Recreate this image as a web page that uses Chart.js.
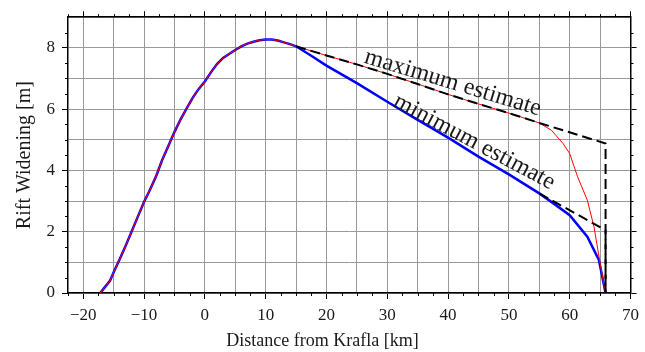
<!DOCTYPE html>
<html>
<head>
<meta charset="utf-8">
<script src="https://cdn.jsdelivr.net/npm/chart.js@4.4.1/dist/chart.umd.min.js"></script>
<style>
    html, body { margin: 0; padding: 0; background: #fff; }
    #wrap { width: 645px; height: 352px; }
</style>
</head>
<body>
<div id="wrap"><canvas id="myChart" width="645" height="352"></canvas></div>
<script>

// shared rise of the widening profile (both estimates agree here)
const riseKm = [-17.2, -16.4, -15.6, -14.9, -14, -13, -12, -11, -10, -9, -8, -7, -6, -5, -4, -3, -2, -1, 0, 1, 2, 3, 4, 5, 6, 7, 8, 9, 10, 11, 12, 13, 14, 15];
const riseM = [0, 0.2, 0.4, 0.72, 1.1, 1.55, 2.02, 2.5, 2.97, 3.38, 3.82, 4.35, 4.8, 5.25, 5.66, 6.02, 6.37, 6.66, 6.9, 7.2, 7.47, 7.67, 7.8, 7.93, 8.05, 8.14, 8.2, 8.25, 8.27, 8.27, 8.24, 8.18, 8.12, 8.05];

// maximum estimate (red)
const maxKm = [17.5, 20, 25, 30, 35, 40, 45, 50, 55, 57, 58.9, 60, 61.3, 62.9, 64, 65, 65.9];
const maxM = [7.90, 7.75, 7.46, 7.15, 6.82, 6.48, 6.17, 5.87, 5.55, 5.31, 4.88, 4.55, 3.79, 3.03, 2.16, 0.97, 0];

// minimum estimate (blue)
const minKm = [17.5, 20, 25, 30, 35, 40, 45, 50, 55, 57.5, 60, 62.9, 64.8, 65.9];
const minM = [7.74, 7.42, 6.85, 6.24, 5.65, 5.07, 4.45, 3.87, 3.25, 2.90, 2.54, 1.84, 1.08, 0];

// dashed envelopes
const envMaxKm = [15, 20, 25, 30, 35, 40, 45, 50, 55, 65.9, 65.9];
const envMaxM = [8.05, 7.75, 7.46, 7.15, 6.82, 6.48, 6.17, 5.87, 5.55, 4.88, 0];
const envMinKm = [55, 65.9, 65.9];
const envMinM = [3.25, 2.05, 0];

const xTicks = [-20, -15, -10, -5, 0, 5, 10, 15, 20, 25, 30, 35, 40, 45, 50, 55, 60, 65, 70];

const serif = 'Liberation Serif';

function pts(xs, ys) {
    return xs.map((x, i) => ({ x: x, y: ys[i] }));
}

function fmt(v) {
    return v < 0 ? '\u2212' + Math.abs(v) : '' + v;
}

function setXTicks(scale) {
    scale.ticks = xTicks.map(v => ({ value: v }));
}

// long marks only at labelled values
function majorTick(ctx, step) {
    const v = ctx.tick ? ctx.tick.value : 0;
    return Math.abs(v % step) < 1e-6 ? '#000' : 'rgba(0,0,0,0)';
}

const minorTicks = {
    id: 'minorTicks',
    afterDraw(chart) {
        const ctx = chart.ctx;
        const a = chart.chartArea;
        const sx = chart.scales.x, sy = chart.scales.y;
        ctx.save();
        ctx.strokeStyle = '#000';
        ctx.lineWidth = 1;
        ctx.beginPath();
        for (let v = -22.5; v <= 70; v += 2.5) {
            if (Math.abs(v % 10) < 1e-6) continue;
            const p = Math.round(sx.getPixelForValue(v)) + 0.5;
            ctx.moveTo(p, a.bottom); ctx.lineTo(p, a.bottom + 3);
            ctx.moveTo(p, a.top); ctx.lineTo(p, a.top - 3);
        }
        for (let v = 0.5; v < 9; v += 0.5) {
            if (Math.abs(v % 2) < 1e-6) continue;
            const p = Math.round(sy.getPixelForValue(v)) + 0.5;
            ctx.moveTo(a.left, p); ctx.lineTo(a.left - 3, p);
            ctx.moveTo(a.right, p); ctx.lineTo(a.right + 3, p);
        }
        ctx.stroke();
        ctx.restore();
    }
};

const curveLabels = {
    id: 'curveLabels',
    afterDatasetsDraw(chart) {
        const ctx = chart.ctx;
        const sx = chart.scales.x, sy = chart.scales.y;
        const put = (text, km, m, deg, lift) => {
            ctx.save();
            ctx.translate(sx.getPixelForValue(km), sy.getPixelForValue(m));
            ctx.rotate(deg * Math.PI / 180);
            ctx.font = '24px "' + serif + '"';
            ctx.fillStyle = '#1a1a1a';
            ctx.textAlign = 'center';
            ctx.textBaseline = 'alphabetic';
            ctx.fillText(text, 0, -lift);
            ctx.restore();
        };
        put('maximum estimate', 40.2, 6.47, 16.8, 6);
        put('minimum estimate', 43.5, 4.63, 28, 4);
    }
};

const config = {
    type: 'scatter',
    data: {
        datasets: [
            { data: pts(envMaxKm, envMaxM), borderColor: '#000', borderWidth: 2, borderDash: [10, 5] },
            { data: pts(envMinKm, envMinM), borderColor: '#000', borderWidth: 2, borderDash: [10, 5] },
            { data: pts(riseKm.concat(maxKm), riseM.concat(maxM)), borderColor: '#ff0000', borderWidth: 1 },
            { data: pts(riseKm.concat(minKm), riseM.concat(minM)), borderColor: '#0000ff', borderWidth: 2.5 }
        ].map(d => Object.assign(d, { showLine: true, pointRadius: 0, fill: false, tension: 0 }))
    },
    options: {
        responsive: false,
        animation: false,
        layout: { padding: 0 },
        plugins: {
            legend: { display: false },
            tooltip: { enabled: false },
            title: {
                display: true,
                position: 'bottom',
                text: 'Distance from Krafla [km]',
                color: '#1a1a1a',
                font: { family: serif, size: 18, weight: 'normal' },
                padding: { top: 0, bottom: 0 }
            }
        },
        scales: {
            x: {
                type: 'linear',
                position: 'bottom',
                min: -22.5,
                max: 70,
                afterBuildTicks: setXTicks,
                afterFit: s => { s.height = 37.4; },
                grid: { color: '#999', lineWidth: 1, tickLength: 6, tickColor: c => majorTick(c, 10) },
                border: { color: '#000', width: 1.5 },
                ticks: {
                    color: '#1a1a1a',
                    padding: 6,
                    maxRotation: 0,
                    autoSkip: false,
                    font: { family: serif, size: 17 },
                    callback: v => (v % 10 === 0 ? fmt(v) : '')
                }
            },
            x2: {
                type: 'linear',
                axis: 'x',
                position: 'top',
                min: -22.5,
                max: 70,
                afterBuildTicks: setXTicks,
                afterFit: s => { s.height = 16; },
                grid: { drawOnChartArea: false, tickLength: 6, tickColor: c => majorTick(c, 10) },
                border: { color: '#000', width: 1.5 },
                ticks: { display: false }
            },
            y: {
                type: 'linear',
                position: 'left',
                min: 0,
                max: 9,
                afterFit: s => { s.width = 68; },
                grid: { color: '#999', lineWidth: 1, tickLength: 6, tickColor: c => majorTick(c, 2) },
                border: { color: '#000', width: 1.5 },
                title: {
                    display: true,
                    text: 'Rift Widening [m]',
                    color: '#1a1a1a',
                    font: { family: serif, size: 20 },
                    padding: { top: 13, bottom: 0 }
                },
                ticks: {
                    stepSize: 1,
                    color: '#1a1a1a',
                    padding: 7,
                    font: { family: serif, size: 17 },
                    callback: v => (v % 2 === 0 ? fmt(v) : '')
                }
            },
            y2: {
                type: 'linear',
                axis: 'y',
                position: 'right',
                min: 0,
                max: 9,
                afterFit: s => { s.width = 8; },
                grid: { drawOnChartArea: false, tickLength: 6, tickColor: c => majorTick(c, 2) },
                border: { color: '#000', width: 1.5 },
                ticks: { stepSize: 1, display: false }
            }
        }
    },
    plugins: [minorTicks, curveLabels]
};

const myChart = new Chart(document.getElementById('myChart'), config);
</script>
</body>
</html>
